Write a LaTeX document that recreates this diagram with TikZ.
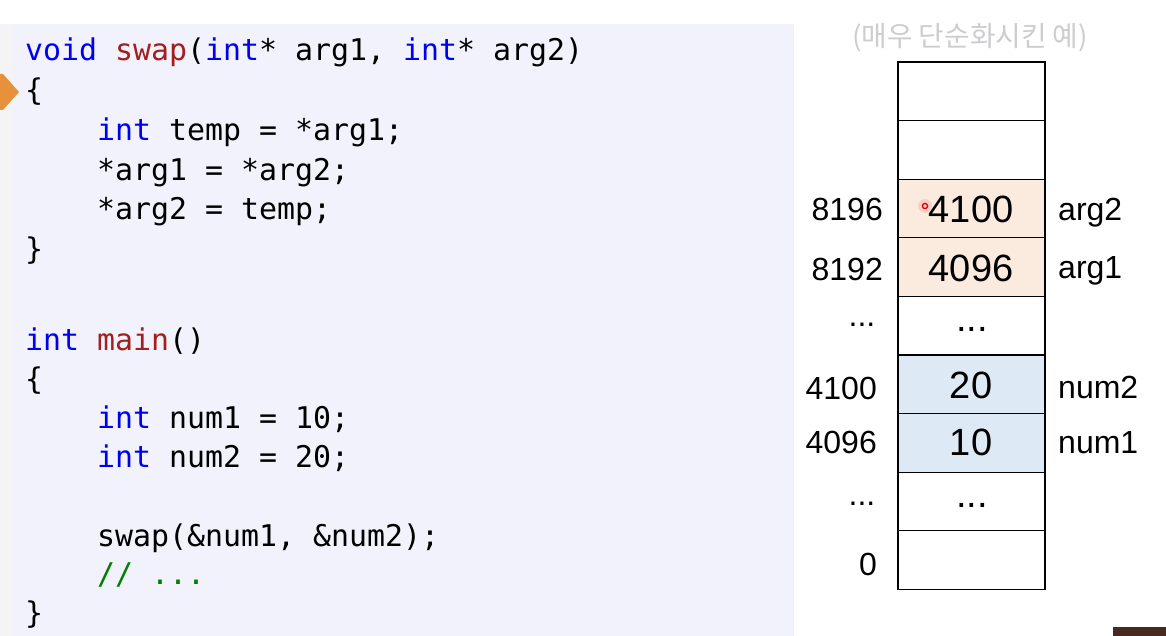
\documentclass[tikz,border=0pt]{standalone}
\usepackage{fontspec}
\setmainfont{Liberation Sans}
\newfontfamily\codefont{DejaVu Sans Mono}
\newfontfamily\kofont{Noto Sans CJK KR}
\definecolor{panelbg}{RGB}{242,242,252}
\definecolor{stripbg}{RGB}{244,244,246}
\definecolor{kw}{RGB}{0,0,240}
\definecolor{fn}{RGB}{163,30,30}
\definecolor{cm}{RGB}{0,128,0}
\definecolor{peach}{RGB}{251,234,222}
\definecolor{lblue}{RGB}{222,233,246}
\definecolor{markorange}{RGB}{232,145,60}
\definecolor{note}{RGB}{205,205,208}
\definecolor{darkbar}{RGB}{72,42,32}
\newcommand{\kw}[1]{\textcolor{kw}{#1}}
\newcommand{\fnc}[1]{\textcolor{fn}{#1}}
\begin{document}
\begin{tikzpicture}[x=1pt,y=-1pt,
  codeline/.style={anchor=base west,inner sep=0pt,font=\codefont\fontsize{29.9}{36}\selectfont},
  memcell/.style={draw=black,line width=1.3pt,minimum width=147pt,minimum height=58.6pt,inner sep=0pt,anchor=north west,outer sep=0pt},
  valtxt/.style={font=\fontsize{38}{44}\selectfont,inner sep=0pt,text height=27.2pt,text depth=0pt},
  addrtxt/.style={font=\fontsize{32}{38}\selectfont,inner sep=0pt,text height=23pt,text depth=0pt,anchor=east},
  vartxt/.style={font=\fontsize{32}{38}\selectfont,inner sep=0pt,text height=23pt,text depth=0pt,anchor=west},
  dotstxt/.style={inner sep=0pt,anchor=base}]
\useasboundingbox (0,0) rectangle (1166,636);
\fill[white] (0,0) rectangle (1166,636);
\fill[stripbg] (0,24) rectangle (13,636);
\fill[panelbg] (13,24) rectangle (794,636);
% marker
\fill[markorange] (0,74) -- (3,74) -- (19,92) -- (3,110) -- (0,110) -- cycle;
% code
\node[codeline] (l1) at (25,61) {\kw{void} \fnc{swap}(\kw{int}* arg1, \kw{int}* arg2)};
\node[codeline] (l2) at (25,101) {\{};
\node[codeline] (l3) at (25,141) {\phantom{xxxx}\kw{int} temp = *arg1;};
\node[codeline] (l4) at (25,181) {\phantom{xxxx}*arg1 = *arg2;};
\node[codeline] (l5) at (25,220) {\phantom{xxxx}*arg2 = temp;};
\node[codeline] (l6) at (25,259) {\}};
\node[codeline] (l8) at (25,350) {\kw{int} \fnc{main}()};
\node[codeline] (l9) at (25,389) {\{};
\node[codeline] (l10) at (25,428) {\phantom{xxxx}\kw{int} num1 = 10;};
\node[codeline] (l11) at (25,467) {\phantom{xxxx}\kw{int} num2 = 20;};
\node[codeline] (l13) at (25,546) {\phantom{xxxx}swap(\&num1, \&num2);};
\node[codeline] (l14) at (25,584) {\phantom{xxxx}\textcolor{cm}{// ...}};
\node[codeline] (l15) at (25,623) {\}};
% heading
\node[font=\kofont\fontsize{27.8}{32}\selectfont,text=note,inner sep=0pt] (title) at (970,38) {(매우 단순화시킨 예)};
% memory cells
\node[memcell] (c1) at (898,62) {};
\node[memcell] (c2) at (898,120.6) {};
\node[memcell,fill=peach] (c3) at (898,179.2) {};
\node[memcell,fill=peach] (c4) at (898,237.8) {};
\node[memcell] (c5) at (898,296.4) {};
\node[memcell,fill=lblue] (c6) at (898,355) {};
\node[memcell,fill=lblue] (c7) at (898,413.6) {};
\node[memcell] (c8) at (898,472.2) {};
\node[memcell] (c9) at (898,530.8) {};
% values
\node[valtxt] (v3) at (971,209) {4100};
\node[valtxt] (v4) at (971,268) {4096};
\node[dotstxt,font=\fontsize{38}{44}\selectfont] (v5) at (972,331) {...};
\node[valtxt] (v6) at (971,385) {20};
\node[valtxt] (v7) at (971,442) {10};
\node[dotstxt,font=\fontsize{38}{44}\selectfont] (v8) at (972,507) {...};
% addresses
\node[addrtxt] (a3) at (883,209) {8196};
\node[addrtxt] (a4) at (883,269) {8192};
\node[dotstxt,font=\fontsize{32}{38}\selectfont] (a5) at (862,326) {...};
\node[addrtxt] (a6) at (877,388) {4100};
\node[addrtxt] (a7) at (877,442) {4096};
\node[dotstxt,font=\fontsize{32}{38}\selectfont] (a8) at (862,505) {...};
\node[addrtxt] (a9) at (877,564) {0};
% variable names
\node[vartxt] (n3) at (1058,209) {arg2};
\node[vartxt] (n4) at (1058,267) {arg1};
\node[vartxt] (n6) at (1058,387) {num2};
\node[vartxt] (n7) at (1058,442) {num1};
% cursor dot
\fill[red!40,opacity=0.35] (925,206) circle (7);
\draw[red!85!black,line width=1.3pt] (925,206) circle (2.6);
% bottom-right bar
\fill[darkbar] (1113,627) rectangle (1166,636);
\end{tikzpicture}
\end{document}
